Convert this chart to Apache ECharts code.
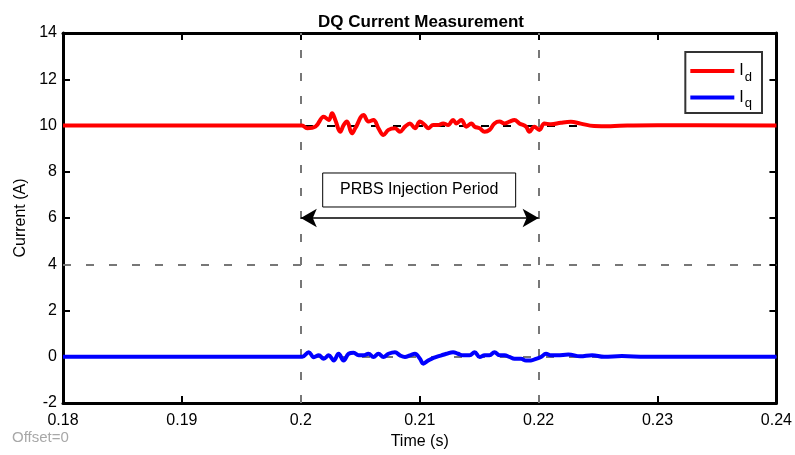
<!DOCTYPE html>
<html><head><meta charset="utf-8">
<script src="https://cdn.jsdelivr.net/npm/echarts@6/dist/echarts.min.js"></script>
<style>html,body{margin:0;padding:0;background:#fff}#c{width:795px;height:455px}</style>
</head><body><div id="c"></div>
<script>
// ---- data ----
var xTicks = [0.18, 0.19, 0.2, 0.21, 0.22, 0.23, 0.24];
var yTicks = [-2, 0, 2, 4, 6, 8, 10, 12, 14];
var tId = [0.18, 0.1990, 0.2001, 0.20053, 0.20123, 0.20193, 0.20235, 0.20263, 0.20290, 0.20332, 0.20360, 0.20388, 0.20430, 0.20458, 0.20528, 0.20569, 0.20611, 0.20653, 0.20695, 0.20737, 0.20792, 0.20834, 0.20876, 0.20918, 0.20960, 0.21002, 0.21043, 0.21071, 0.21113, 0.21155, 0.21197, 0.21239, 0.21281, 0.21308, 0.21350, 0.21392, 0.21434, 0.21462, 0.21504, 0.21546, 0.21587, 0.21629, 0.21671, 0.21713, 0.21755, 0.21797, 0.21838, 0.21894, 0.21922, 0.21964, 0.22006, 0.22048, 0.22103, 0.22187, 0.22271, 0.22354, 0.22466, 0.22605, 0.22745, 0.23, 0.24];
var idVals = [10, 10.0, 10.0, 9.88, 9.95, 10.38, 10.24, 10.53, 10.24, 9.73, 10.02, 10.17, 9.66, 9.88, 10.45, 10.17, 10.24, 9.88, 9.59, 9.81, 9.88, 9.73, 9.95, 10.09, 9.88, 10.17, 10.02, 9.88, 10.02, 10.02, 10.09, 10.02, 10.24, 10.09, 10.24, 9.95, 10.09, 9.95, 9.88, 9.73, 9.81, 10.09, 10.17, 10.09, 10.17, 10.24, 10.09, 9.95, 9.73, 9.95, 9.81, 10.09, 10.05, 10.12, 10.16, 10.08, 9.98, 9.97, 10.0, 10.01, 10.0];
var tIq = [0.18, 0.1990, 0.20012, 0.20067, 0.20109, 0.20151, 0.20193, 0.20235, 0.20277, 0.20318, 0.20360, 0.20402, 0.20444, 0.20486, 0.20528, 0.20569, 0.20611, 0.20653, 0.20695, 0.20737, 0.20792, 0.20834, 0.20876, 0.20918, 0.20960, 0.21002, 0.21030, 0.21071, 0.21099, 0.21141, 0.21183, 0.21225, 0.21281, 0.21322, 0.21364, 0.21420, 0.21462, 0.21504, 0.21546, 0.21587, 0.21629, 0.21671, 0.21713, 0.21755, 0.21797, 0.21852, 0.21894, 0.21936, 0.21978, 0.22020, 0.22062, 0.22103, 0.22159, 0.2225, 0.2235, 0.2245, 0.2255, 0.227, 0.229, 0.24];
var iqVals = [0, 0, 0, 0.20, -0.02, 0.06, -0.09, 0.06, -0.16, 0.13, -0.16, 0.13, 0.17, 0.06, 0.06, 0.13, -0.01, 0.13, -0.01, 0.13, 0.20, 0.06, -0.01, 0.06, 0.13, -0.09, -0.30, -0.16, -0.09, -0.01, 0.06, 0.13, 0.20, 0.13, 0.06, 0.06, 0.20, -0.01, 0.06, 0.06, 0.20, 0.06, 0.06, -0.01, -0.09, -0.09, -0.16, -0.16, -0.09, -0.01, 0.13, 0.06, 0.06, 0.10, 0.02, 0.07, 0.0, 0.03, 0.0, 0];
var seriesNames = ['Id', 'Iq'];
var gridY = [4];          // dashed horizontal guide
var gridX = [0.2, 0.22];  // dashed vertical guides (injection window)
var refLevels = [10];     // black dashed reference
var arrowLevel = 6;
var annotText = 'PRBS Injection Period';

function pairs(t, v) { return t.map(function (x, i) { return [x, v[i]]; }); }
var FONT = 'Liberation Sans, Arial, sans-serif';
var fmtX = function (v) { return String(parseFloat(v.toFixed(2))); };

var chart = echarts.init(document.getElementById('c'), null, { renderer: 'canvas' });
var axisLineS = { show: true, onZero: false, lineStyle: { color: '#000', width: 3 } };
var tickS = { show: true, inside: true, length: 7, lineStyle: { color: '#000', width: 2 } };
var option = {
  animation: false,
  backgroundColor: '#fff',
  title: { text: 'DQ Current Measurement', left: 416, textAlign: 'center', top: 9, textStyle: { fontFamily: FONT, fontSize: 17, fontWeight: 'bold', color: '#000' } },
  grid: { left: 63, right: 13, top: 33, bottom: 52 },
  xAxis: [
    { type: 'value', min: xTicks[0], max: xTicks[xTicks.length - 1], interval: 0.01, name: 'Time (s)', nameLocation: 'middle', nameGap: 27,
      nameTextStyle: { fontFamily: FONT, fontSize: 16, color: '#000' },
      axisLine: axisLineS, axisTick: tickS, splitLine: { show: false },
      axisLabel: { fontFamily: FONT, fontSize: 16, color: '#000', margin: 10, formatter: fmtX, showMinLabel: true, showMaxLabel: true } },
    { type: 'value', position: 'top', min: xTicks[0], max: xTicks[xTicks.length - 1], interval: 0.01,
      axisLine: axisLineS, axisTick: tickS, axisLabel: { show: false }, splitLine: { show: false } }
  ],
  yAxis: [
    { type: 'value', min: yTicks[0], max: yTicks[yTicks.length - 1], interval: 2, name: 'Current (A)', nameLocation: 'middle', nameGap: 34,
      nameTextStyle: { fontFamily: FONT, fontSize: 16, color: '#000' },
      axisLine: axisLineS, axisTick: tickS, splitLine: { show: false },
      axisLabel: { fontFamily: FONT, fontSize: 16, color: '#000', margin: 6 } },
    { type: 'value', position: 'right', min: yTicks[0], max: yTicks[yTicks.length - 1], interval: 2,
      axisLine: axisLineS, axisTick: tickS, axisLabel: { show: false }, splitLine: { show: false } }
  ],
  legend: {
    orient: 'vertical', right: 33, top: 52, data: seriesNames,
    borderColor: '#333', borderWidth: 2, padding: [11, 10, 3, 5], itemGap: 6,
    itemWidth: 44, itemHeight: 4, icon: 'rect',
    formatter: function (n) { return '{i|I}{s|' + n.slice(1) + '}'; },
    textStyle: { fontFamily: FONT, color: '#000',
      rich: { i: { fontSize: 16, fontFamily: FONT, lineHeight: 22 }, s: { fontSize: 13, fontFamily: FONT, padding: [12, 0, 0, 1] } } }
  },
  series: [
    { name: 'guides', type: 'line', data: [], silent: true, z: 1,
      markLine: { silent: true, symbol: 'none', label: { show: false },
        lineStyle: { color: '#777', type: [8, 15], width: 2 },
        data: gridY.map(function (y) { return { yAxis: y }; }).concat(gridX.map(function (x) { return { xAxis: x }; })).concat([{ yAxis: 0 }]) } },
    { name: 'ref', type: 'line', data: [], silent: true, z: 1,
      markLine: { silent: true, symbol: 'none', label: { show: false },
        lineStyle: { color: '#000', type: [8, 14], width: 2 },
        data: refLevels.map(function (y) { return { yAxis: y }; }) } },
    { name: 'arrow', type: 'line', data: [], silent: true, z: 3,
      markLine: { silent: true, symbol: ['arrow', 'arrow'], symbolSize: [14, 16], label: { show: false },
        lineStyle: { color: '#000', type: 'solid', width: 1.5 },
        data: [[{ coord: [gridX[0], arrowLevel] }, { coord: [gridX[1], arrowLevel] }]] } },
    { name: 'Id', type: 'line', data: pairs(tId, idVals), smooth: 0.4, showSymbol: false, z: 5,
      lineStyle: { color: '#ff0000', width: 4 }, itemStyle: { color: '#ff0000' } },
    { name: 'Iq', type: 'line', data: pairs(tIq, iqVals), smooth: 0.4, showSymbol: false, z: 5,
      lineStyle: { color: '#0000ff', width: 4 }, itemStyle: { color: '#0000ff' } }
  ]
};
chart.setOption(option);
// annotation box placed in data coordinates
var p0 = chart.convertToPixel({ xAxisIndex: 0, yAxisIndex: 0 }, [0.20184, 7.946]);
var p1 = chart.convertToPixel({ xAxisIndex: 0, yAxisIndex: 0 }, [0.21807, 6.476]);
chart.setOption({
  graphic: [
    { type: 'rect', z: 10, shape: { x: p0[0], y: p0[1], width: p1[0] - p0[0], height: p1[1] - p0[1] },
      style: { fill: '#fff', stroke: '#000', lineWidth: 1 } },
    { type: 'text', z: 11, x: (p0[0] + p1[0]) / 2, y: (p0[1] + p1[1]) / 2,
      style: { text: annotText, fontFamily: FONT, fontSize: 16, fill: '#000', align: 'center', verticalAlign: 'middle' } },
    { type: 'text', z: 11, left: 12, top: 430,
      style: { text: 'Offset=0', fontFamily: FONT, fontSize: 15, fill: '#a8a8a8' } }
  ]
});
</script></body></html>
